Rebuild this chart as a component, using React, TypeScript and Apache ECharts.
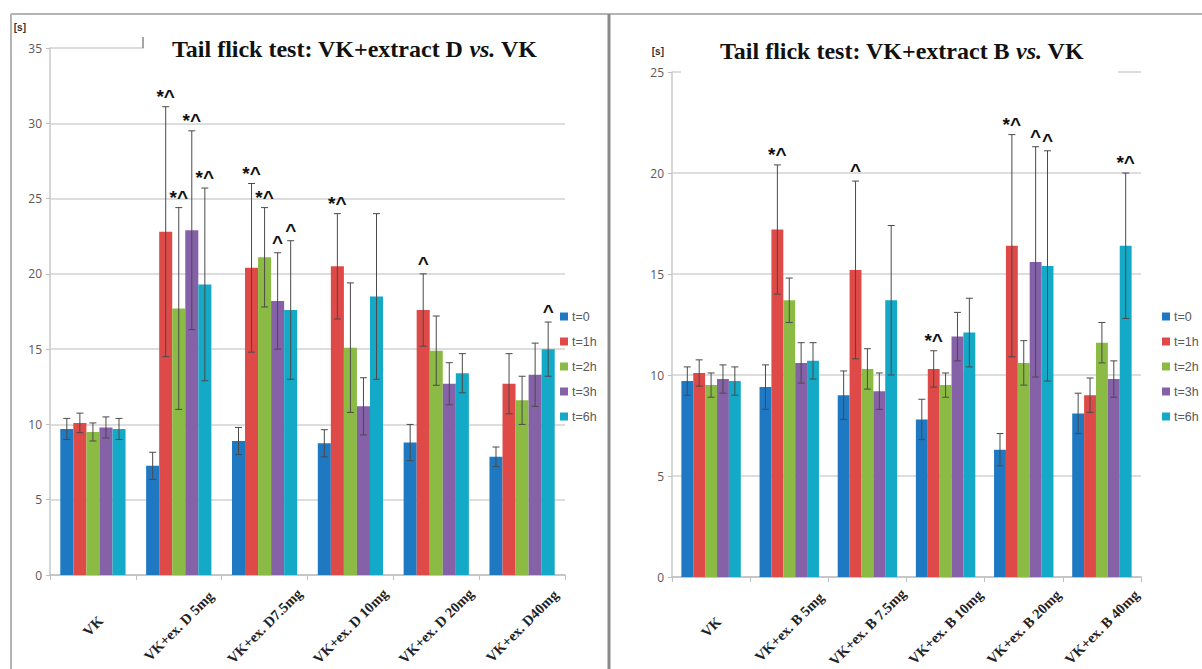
import React, { useEffect, useRef } from "react";
import * as echarts from "echarts";

const SERIES_NAMES = ["t=0", "t=1h", "t=2h", "t=3h", "t=6h"];
const COLORS = ["#1F78C2", "#DE4A47", "#8CBB45", "#8562A8", "#14A9C6"];

const CATEGORIES_D = ["VK", "VK+ex. D 5mg", "VK+ex. D7.5mg", "VK+ex. D 10mg", "VK+ex. D 20mg", "VK+ex. D40mg"];
const CATEGORIES_B = ["VK", "VK+ex. B 5mg", "VK+ex. B 7.5mg", "VK+ex. B 10mg", "VK+ex. B 20mg", "VK+ex. B 40mg"];

// Extract D: mean tail flick latency [s]
const D_T0 = [9.7, 7.25, 8.9, 8.75, 8.8, 7.85];
const D_T1 = [10.1, 22.8, 20.4, 20.5, 17.6, 12.7];
const D_T2 = [9.5, 17.7, 21.1, 15.1, 14.9, 11.6];
const D_T3 = [9.8, 22.9, 18.2, 11.2, 12.7, 13.3];
const D_T6 = [9.7, 19.3, 17.6, 18.5, 13.4, 15.0];
// Extract D: error (+/-)
const D_ERR_T0 = [0.7, 0.9, 0.9, 0.9, 1.2, 0.65];
const D_ERR_T1 = [0.65, 8.3, 5.6, 3.5, 2.4, 2.0];
const D_ERR_T2 = [0.6, 6.7, 3.3, 4.3, 2.3, 1.6];
const D_ERR_T3 = [0.7, 6.6, 3.2, 1.9, 1.4, 2.1];
const D_ERR_T6 = [0.7, 6.4, 4.6, 5.5, 1.3, 1.8];
// Extract D: significance marks
const D_SIG_T0 = ["", "", "", "", "", ""];
const D_SIG_T1 = ["", "*^", "*^", "*^", "^", ""];
const D_SIG_T2 = ["", "*^", "*^", "", "", ""];
const D_SIG_T3 = ["", "*^", "^", "", "", ""];
const D_SIG_T6 = ["", "*^", "^", "", "", "^"];

// Extract B: mean tail flick latency [s]
const B_T0 = [9.7, 9.4, 9.0, 7.8, 6.3, 8.1];
const B_T1 = [10.1, 17.2, 15.2, 10.3, 16.4, 9.0];
const B_T2 = [9.5, 13.7, 10.3, 9.5, 10.6, 11.6];
const B_T3 = [9.8, 10.6, 9.2, 11.9, 15.6, 9.8];
const B_T6 = [9.7, 10.7, 13.7, 12.1, 15.4, 16.4];
// Extract B: error (+/-)
const B_ERR_T0 = [0.7, 1.1, 1.2, 1.0, 0.8, 1.0];
const B_ERR_T1 = [0.65, 3.2, 4.4, 0.9, 5.5, 0.85];
const B_ERR_T2 = [0.6, 1.1, 1.0, 0.6, 1.1, 1.0];
const B_ERR_T3 = [0.7, 1.0, 0.9, 1.2, 5.7, 0.9];
const B_ERR_T6 = [0.7, 0.9, 3.7, 1.7, 5.7, 3.6];
// Extract B: significance marks
const B_SIG_T0 = ["", "", "", "", "", ""];
const B_SIG_T1 = ["", "*^", "^", "*^", "*^", ""];
const B_SIG_T2 = ["", "", "", "", "", ""];
const B_SIG_T3 = ["", "", "", "", "^", ""];
const B_SIG_T6 = ["", "", "", "", "^", "*^"];

const Y_MAX_D = 35;
const Y_MAX_B = 25;
const Y_STEP = 5;

const GAP = 0.24;
const ERR_COLOR = "#4a4a4a";
const AXIS_GRAY = "#bfbfbf";
const LABEL_GRAY = "#595959";

function buildBars(values: number[][], idx: number) {
  return values.map((vals, s) => ({
    type: "bar",
    name: SERIES_NAMES[s],
    xAxisIndex: idx,
    yAxisIndex: idx,
    data: vals,
    barGap: "0%",
    barCategoryGap: GAP * 100 + "%",
    itemStyle: { color: COLORS[s] },
    z: 2,
  }));
}

function buildErr(values: number[][], errs: number[][], sigs: string[][], idx: number) {
  const recs: { c: number; s: number; v: number; e: number; m: string }[] = [];
  values.forEach((vals, s) =>
    vals.forEach((v, c) => recs.push({ c, s, v, e: errs[s][c], m: sigs[s][c] }))
  );
  return {
    type: "custom",
    xAxisIndex: idx,
    yAxisIndex: idx,
    silent: true,
    clip: false,
    z: 5,
    data: recs.map((r) => [r.c, r.v + r.e, r.v - r.e]),
    encode: { x: 0, y: [1, 2] },
    renderItem: (params: any, api: any) => {
      const r = recs[params.dataIndex];
      const band = api.size([1, 0])[0];
      const bw = (band * (1 - GAP)) / 5;
      const x = api.coord([r.c, 0])[0] + (r.s - 2) * bw;
      const yTop = api.coord([r.c, r.v + r.e])[1];
      const yBot = api.coord([r.c, r.v - r.e])[1];
      const cap = 3.5;
      const st = { stroke: ERR_COLOR, lineWidth: 1 };
      const children: any[] = [
        { type: "line", shape: { x1: x, y1: yTop, x2: x, y2: yBot }, style: st },
        { type: "line", shape: { x1: x - cap, y1: yTop, x2: x + cap, y2: yTop }, style: st },
        { type: "line", shape: { x1: x - cap, y1: yBot, x2: x + cap, y2: yBot }, style: st },
      ];
      if (r.m) {
        children.push({
          type: "text",
          x,
          y: yTop - 1,
          style: {
            text: r.m,
            align: "center",
            verticalAlign: "bottom",
            fontSize: 19,
            fontWeight: "bold",
            fontFamily: "Liberation Sans",
            fill: "#111",
          },
        });
      }
      return { type: "group", children };
    },
  };
}

function yAxis(idx: number, max: number, nameRightPad: number) {
  return {
    type: "value",
    gridIndex: idx,
    min: 0,
    max,
    interval: Y_STEP,
    name: "[s]",
    nameLocation: "end",
    nameGap: 21,
    nameTextStyle: {
      align: "right",
      verticalAlign: "middle",
      padding: [0, nameRightPad, 0, 0],
      fontSize: 10,
      fontWeight: "bold",
      color: "#333",
      fontFamily: "Liberation Sans",
    },
    axisLine: { show: true, lineStyle: { color: "#c8c8c8", width: 1.5 } },
    axisTick: { show: true, length: 4, lineStyle: { color: AXIS_GRAY } },
    axisLabel: { color: LABEL_GRAY, fontSize: 12, fontFamily: "Open Sans", margin: 8 },
    splitLine: { show: true, lineStyle: { color: "#d2d2d2", width: 1.5 } },
  };
}

function xAxis(idx: number, cats: string[], margin: number) {
  return {
    type: "category",
    gridIndex: idx,
    data: cats,
    axisLine: { show: true, lineStyle: { color: AXIS_GRAY, width: 1.5 } },
    axisTick: { show: true, length: 5, alignWithLabel: false, lineStyle: { color: AXIS_GRAY } },
    axisLabel: {
      interval: 0,
      rotate: 45,
      align: "center",
      verticalAlign: "middle",
      margin,
      color: "#222",
      fontSize: 14.5,
      fontWeight: "bold",
      fontFamily: "Liberation Serif",
    },
  };
}

function legend(left: number, top: number) {
  return {
    data: SERIES_NAMES,
    orient: "vertical",
    left,
    top,
    itemWidth: 8,
    itemHeight: 8,
    itemGap: 12,
    icon: "rect",
    padding: 0,
    textStyle: { color: LABEL_GRAY, fontSize: 12.5, fontFamily: "Liberation Sans", padding: [0, 0, 0, -1] },
  };
}

function titleStyle() {
  const base = { fontFamily: "Liberation Serif", fontWeight: "bold", fontSize: 24, color: "#111" };
  return { ...base, rich: { i: { ...base, fontStyle: "italic" } } };
}

const D_VALUES = [D_T0, D_T1, D_T2, D_T3, D_T6];
const D_ERRS = [D_ERR_T0, D_ERR_T1, D_ERR_T2, D_ERR_T3, D_ERR_T6];
const D_SIGS = [D_SIG_T0, D_SIG_T1, D_SIG_T2, D_SIG_T3, D_SIG_T6];
const B_VALUES = [B_T0, B_T1, B_T2, B_T3, B_T6];
const B_ERRS = [B_ERR_T0, B_ERR_T1, B_ERR_T2, B_ERR_T3, B_ERR_T6];
const B_SIGS = [B_SIG_T0, B_SIG_T1, B_SIG_T2, B_SIG_T3, B_SIG_T6];

const option: any = {
  animation: false,
  backgroundColor: "#fff",
  title: [
    {
      text: "Tail flick test: VK+extract D {i|vs.} VK",
      left: 172,
      top: 37,
      padding: 0,
      z: 200,
      textStyle: titleStyle(),
    },
    {
      text: "Tail flick test: VK+extract B {i|vs.} VK",
      left: 720,
      top: 39,
      padding: 0,
      z: 200,
      textStyle: titleStyle(),
    },
  ],
  legend: [legend(560, 310), legend(1162, 310)],
  grid: [
    { left: 50, right: 1202 - 565, top: 48, bottom: 669 - 575, outerBoundsMode: "none", containLabel: false },
    { left: 672, right: 1202 - 1141, top: 72, bottom: 669 - 577, outerBoundsMode: "none", containLabel: false },
  ],
  xAxis: [xAxis(0, CATEGORIES_D, 51), xAxis(1, CATEGORIES_B, 50)],
  yAxis: [yAxis(0, Y_MAX_D, 24), yAxis(1, Y_MAX_B, 8)],
  graphic: [
    { type: "line", z: 50, shape: { x1: 11, y1: 14, x2: 1202, y2: 14 }, style: { stroke: "#b4b4b4", lineWidth: 2 } },
    { type: "line", z: 50, shape: { x1: 11, y1: 14, x2: 11, y2: 669 }, style: { stroke: "#b4b4b4", lineWidth: 2 } },
    { type: "line", z: 50, shape: { x1: 609, y1: 14, x2: 609, y2: 669 }, style: { stroke: "#8a8a8a", lineWidth: 3 } },
    { type: "rect", z: 100, shape: { x: 144, y: 44, width: 424, height: 8 }, style: { fill: "#fff" } },
    { type: "line", z: 101, shape: { x1: 143, y1: 37, x2: 143, y2: 48 }, style: { stroke: "#888", lineWidth: 1.5 } },
    { type: "rect", z: 100, shape: { x: 681, y: 68, width: 437, height: 8 }, style: { fill: "#fff" } },
  ],
  series: [
    ...buildBars(D_VALUES, 0),
    buildErr(D_VALUES, D_ERRS, D_SIGS, 0),
    ...buildBars(B_VALUES, 1),
    buildErr(B_VALUES, B_ERRS, B_SIGS, 1),
  ],
};

export default function App() {
  const ref = useRef<HTMLDivElement>(null);
  useEffect(() => {
    const chart = echarts.init(ref.current!, null, { renderer: "svg" });
    chart.setOption(option);
    return () => chart.dispose();
  }, []);
  return (
    <div
      ref={ref}
      style={{ position: "absolute", left: 0, top: 0, width: 1202, height: 669, background: "#fff" }}
    />
  );
}
